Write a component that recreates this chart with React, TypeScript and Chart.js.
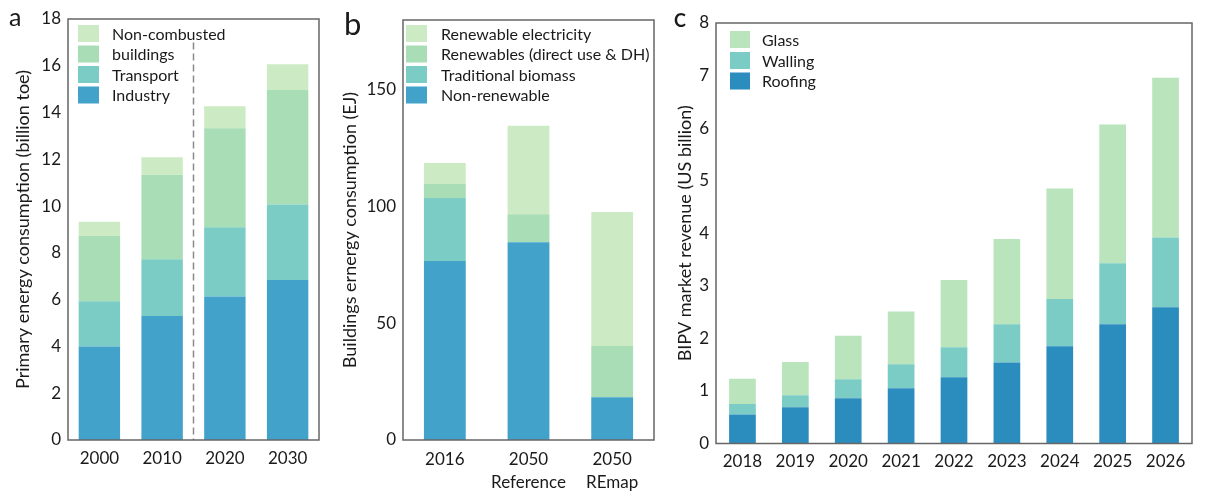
import React, { useEffect, useRef } from "react";
import { Chart, registerables } from "chart.js";

Chart.register(...registerables);

const FONT = "Lato, 'Noto Sans', sans-serif";
const TEXT = "#1a1a1a";

// ---------- Panel a ----------
const aCategories = ["2000", "2010", "2020", "2030"];
const aIndustry = [4.0, 5.3, 6.14, 6.84];
const aTransport = [1.93, 2.43, 2.96, 3.23];
const aBuildings = [2.79, 3.61, 4.23, 4.89];
const aNonCombusted = [0.61, 0.75, 0.94, 1.11];
const aTicks = [0, 2, 4, 6, 8, 10, 12, 14, 16, 18];

// ---------- Panel b ----------
const bCategories = [["2016"], ["2050", "Reference"], ["2050", "REmap"]];
const bNonRenewable = [76.7, 84.7, 18.3];
const bTraditionalBiomass = [27.0, 0, 0];
const bRenewablesDirect = [6.0, 12.0, 22.0];
const bRenewableElectricity = [9.0, 38.0, 57.4];
const bTicks = [0, 50, 100, 150];

// ---------- Panel c ----------
const cCategories = ["2018", "2019", "2020", "2021", "2022", "2023", "2024", "2025", "2026"];
const cRoofing = [0.55, 0.69, 0.86, 1.05, 1.26, 1.54, 1.85, 2.27, 2.59];
const cWalling = [0.2, 0.23, 0.36, 0.46, 0.57, 0.73, 0.9, 1.16, 1.33];
const cGlass = [0.48, 0.63, 0.83, 1.0, 1.28, 1.62, 2.1, 2.64, 3.04];
const cTicks = [0, 1, 2, 3, 4, 5, 6, 7, 8];

const C_BLUE = "#43a2ca";
const C_DBLUE = "#2b8cbe";
const C_TEAL = "#7bccc4";
const C_GREEN = "#a8ddb5";
const C_LIGHT = "#ccebc5";
const C_GLASS = "#bae4bc";

const H = 492;
const TICK_SIZE = 17;
const TITLE_SIZE = 18;
const LEGEND_SIZE = 16;

type Spec = {
  left: number;
  width: number;
  area: { left: number; right: number; top: number; bottom: number };
  labels: any[];
  series: { label: string; data: number[]; color: string }[];
  yMax: number;
  ticks: number[];
  barPct: number;
  letter: { text: string; x: number; y: number; font: string };
  yTitle: string;
  yTitleX: number;
  legend: { boxX: number; boxW: number; boxH: number; textX: number; rows: number[] };
  dashed?: { from: number; to: number; between: [number, number] };
  xLineHeight?: number;
};

function makeChart(canvas: HTMLCanvasElement, s: Spec) {
  const panelPlugin = {
    id: "panelDecor",
    afterDatasetsDraw(chart: any) {
      const ctx = chart.ctx;
      const ca = chart.chartArea;
      ctx.save();
      // dashed separator
      if (s.dashed) {
        const xs = chart.scales.x;
        const ys = chart.scales.y;
        const px = (xs.getPixelForValue(s.dashed.between[0]) + xs.getPixelForValue(s.dashed.between[1])) / 2;
        ctx.strokeStyle = "#8a8a8a";
        ctx.lineWidth = 1.5;
        ctx.setLineDash([7, 4]);
        ctx.beginPath();
        ctx.moveTo(px, ys.getPixelForValue(s.dashed.from));
        ctx.lineTo(px, ys.getPixelForValue(s.dashed.to));
        ctx.stroke();
        ctx.setLineDash([]);
      }
      // frame
      ctx.strokeStyle = "#666";
      ctx.lineWidth = 1.5;
      ctx.strokeRect(ca.left, ca.top, ca.right - ca.left, ca.bottom - ca.top);
      // legend (top series first)
      const items = s.series.slice().reverse();
      ctx.font = `${LEGEND_SIZE}px ${FONT}`;
      ctx.textBaseline = "middle";
      ctx.textAlign = "left";
      items.forEach((it, i) => {
        const y = s.legend.rows[i];
        ctx.fillStyle = it.color;
        ctx.fillRect(s.legend.boxX, y - s.legend.boxH / 2, s.legend.boxW, s.legend.boxH);
        ctx.fillStyle = TEXT;
        ctx.fillText(it.label, s.legend.textX, y + 1);
      });
      // y title
      ctx.save();
      ctx.translate(s.yTitleX, (ca.top + ca.bottom) / 2);
      ctx.rotate(-Math.PI / 2);
      ctx.textAlign = "center";
      ctx.textBaseline = "middle";
      ctx.font = `${TITLE_SIZE}px ${FONT}`;
      ctx.fillStyle = TEXT;
      ctx.fillText(s.yTitle, 0, 0);
      ctx.restore();
      // panel letter
      ctx.font = s.letter.font;
      ctx.textBaseline = "alphabetic";
      ctx.textAlign = "left";
      ctx.fillStyle = TEXT;
      ctx.fillText(s.letter.text, s.letter.x, s.letter.y);
      ctx.restore();
    },
  };

  return new Chart(canvas, {
    type: "bar",
    data: {
      labels: s.labels,
      datasets: s.series.map((it) => ({
        label: it.label,
        data: it.data,
        backgroundColor: it.color,
        borderWidth: 0,
        barPercentage: s.barPct,
        categoryPercentage: 1,
      })),
    },
    options: {
      animation: false,
      responsive: false,
      maintainAspectRatio: false,
      devicePixelRatio: 1,
      layout: {
        padding: { left: 0, top: s.area.top, right: s.width - s.area.right, bottom: 0 },
      },
      plugins: { legend: { display: false }, tooltip: { enabled: false }, title: { display: false } },
      scales: {
        x: {
          stacked: true,
          grid: { display: false, drawTicks: false },
          border: { display: false },
          ticks: {
            color: TEXT,
            font: { family: FONT, size: TICK_SIZE, lineHeight: s.xLineHeight ?? 1.2 },
            padding: 8,
            maxRotation: 0,
            autoSkip: false,
          },
          afterFit: (sc: any) => {
            sc.height = H - s.area.bottom;
          },
        },
        y: {
          stacked: true,
          min: 0,
          max: s.yMax,
          grid: { display: false, drawTicks: false },
          border: { display: false },
          ticks: { color: TEXT, font: { family: FONT, size: TICK_SIZE }, padding: 7 },
          afterBuildTicks: (sc: any) => {
            sc.ticks = s.ticks.map((v) => ({ value: v }));
          },
          afterFit: (sc: any) => {
            sc.width = s.area.left;
          },
        },
      },
    } as any,
    plugins: [panelPlugin],
  });
}

const specs: Spec[] = [
  {
    left: 0,
    width: 330,
    area: { left: 68, right: 319, top: 19, bottom: 440 },
    labels: aCategories,
    series: [
      { label: "Industry", data: aIndustry, color: C_BLUE },
      { label: "Transport", data: aTransport, color: C_TEAL },
      { label: "buildings", data: aBuildings, color: C_GREEN },
      { label: "Non-combusted", data: aNonCombusted, color: C_LIGHT },
    ],
    yMax: 18,
    ticks: aTicks,
    barPct: 0.66,
    letter: { text: "a", x: 9, y: 25.5, font: `25px ${FONT}` },
    yTitle: "Primary energy consumption (billion toe)",
    yTitleX: 23,
    legend: { boxX: 78, boxW: 21, boxH: 17, textX: 112, rows: [33.5, 54, 74.5, 95] },
    dashed: { from: 17, to: 0, between: [1, 2] },
  },
  {
    left: 330,
    width: 340,
    area: { left: 73, right: 324, top: 20, bottom: 440 },
    labels: bCategories,
    series: [
      { label: "Non-renewable", data: bNonRenewable, color: C_BLUE },
      { label: "Traditional biomass", data: bTraditionalBiomass, color: C_TEAL },
      { label: "Renewables (direct use & DH)", data: bRenewablesDirect, color: C_GREEN },
      { label: "Renewable electricity", data: bRenewableElectricity, color: C_LIGHT },
    ],
    yMax: 180,
    ticks: bTicks,
    barPct: 0.5,
    letter: { text: "b", x: 14, y: 35, font: `31px ${FONT}` },
    yTitle: "Buildings ernergy consumption (EJ)",
    yTitleX: 20,
    legend: { boxX: 76, boxW: 21, boxH: 17, textX: 111, rows: [33.5, 54, 74.5, 95] },
    xLineHeight: 1.35,
  },
  {
    left: 670,
    width: 550,
    area: { left: 46, right: 522, top: 23, bottom: 443.5 },
    labels: cCategories,
    series: [
      { label: "Roofing", data: cRoofing, color: C_DBLUE },
      { label: "Walling", data: cWalling, color: C_TEAL },
      { label: "Glass", data: cGlass, color: C_GLASS },
    ],
    yMax: 8,
    ticks: cTicks,
    barPct: 0.505,
    letter: { text: "C", x: 4, y: 27, font: `bold 18px ${FONT}` },
    yTitle: "BIPV market revenue (US billion)",
    yTitleX: 15,
    legend: { boxX: 60, boxW: 20, boxH: 17, textX: 92, rows: [39.5, 60.5, 81] },
  },
];

function Panel({ spec }: { spec: Spec }) {
  const ref = useRef<HTMLCanvasElement | null>(null);
  useEffect(() => {
    if (!ref.current) return;
    const chart = makeChart(ref.current, spec);
    return () => chart.destroy();
  }, [spec]);
  return (
    <canvas
      ref={ref}
      width={spec.width}
      height={H}
      style={{ position: "absolute", left: spec.left, top: 0, width: spec.width, height: H }}
    />
  );
}

export default function App() {
  return (
    <div
      style={{
        position: "fixed",
        left: 0,
        top: 0,
        width: 1220,
        height: H,
        background: "#fff",
        overflow: "hidden",
      }}
    >
      {specs.map((s, i) => (
        <Panel key={i} spec={s} />
      ))}
    </div>
  );
}
